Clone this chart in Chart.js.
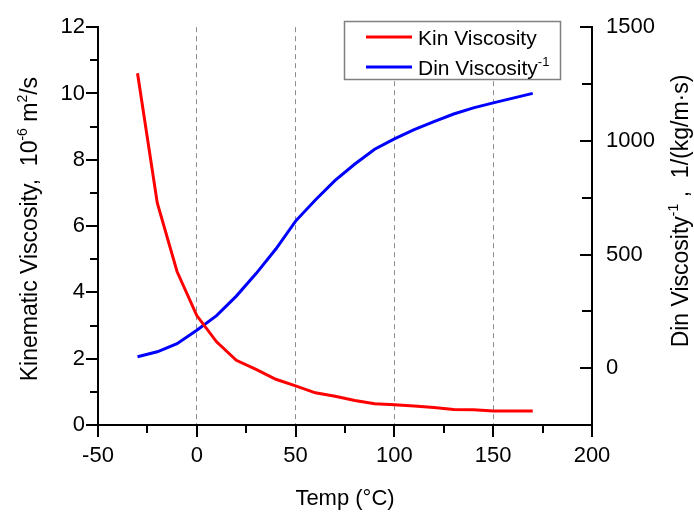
<!DOCTYPE html>
<html>
<head>
<meta charset="utf-8">
<script src="https://cdn.jsdelivr.net/npm/chart.js@4.4.1/dist/chart.umd.min.js"></script>
<style>
  html, body { margin: 0; padding: 0; background: #fff; }
  #wrap { width: 694px; height: 513px; }
</style>
</head>
<body>
<div id="wrap"><canvas id="viscChart" width="694" height="513"></canvas></div>
<script>
// temperature points (°C)
const temps = [-30, -20, -10, 0, 10, 20, 30, 40, 50, 60, 70, 80, 90, 100, 110, 120, 130, 140, 150, 160, 170];
// kinematic viscosity, 10^-6 m2/s (left axis)
const kinVisc = [10.61, 6.70, 4.63, 3.30, 2.51, 1.95, 1.68, 1.38, 1.18, 0.97, 0.87, 0.74, 0.64, 0.61, 0.57, 0.53, 0.47, 0.46, 0.42, 0.42, 0.42];
// inverse dynamic viscosity, 1/(kg/m·s) (right axis)
const dinInv = [50, 72, 108, 167, 231, 317, 416, 524, 647, 740, 826, 898, 963, 1009, 1049, 1085, 1118, 1145, 1167, 1188, 1209];

const xTicks = [-50, 0, 50, 100, 150, 200];
const yTicks = [0, 2, 4, 6, 8, 10, 12];
const y1Ticks = [0, 500, 1000, 1500];

const FONT = "'Liberation Sans', Arial, sans-serif";
const FS = 22;

const toPts = (xs, ys) => xs.map((x, i) => ({ x: x, y: ys[i] }));

// text runs with raised superscript pieces
function richWidth(ctx, parts, size) {
    let w = 0;
    parts.forEach(p => {
        ctx.font = (p.sup ? Math.round(size * 0.6) : size) + "px " + FONT;
        w += ctx.measureText(p.t).width;
    });
    return w;
}
function drawRich(ctx, parts, x, y, size) {
    ctx.textBaseline = 'alphabetic';
    ctx.textAlign = 'left';
    parts.forEach(p => {
        ctx.font = (p.sup ? Math.round(size * 0.6) : size) + "px " + FONT;
        ctx.fillText(p.t, x, p.sup ? y - size * 0.45 : y);
        x += ctx.measureText(p.t).width;
    });
}

const leftTitle = [{ t: 'Kinematic Viscosity,  10' }, { t: '-6', sup: true }, { t: ' m' }, { t: '2', sup: true }, { t: '/s' }];
const rightTitle = [{ t: 'Din Viscosity' }, { t: '-1', sup: true }, { t: ' ,  1/(kg/m\u00b7s)' }];
const xTitle = [{ t: 'Temp (\u00b0C)' }];
const legendItems = [
    { color: '#ff0000', parts: [{ t: 'Kin Viscosity' }] },
    { color: '#0000ff', parts: [{ t: 'Din Viscosity' }, { t: '-1', sup: true }] }
];

const decor = {
    id: 'decor',
    afterDraw(chart) {
        const ctx = chart.ctx;
        const { x, y, y1 } = chart.scales;
        const a = chart.chartArea;
        ctx.save();
        ctx.strokeStyle = '#000';
        ctx.lineWidth = 2;
        ctx.beginPath();
        for (let v = -50; v <= 200; v += 25) {
            const px = Math.round(x.getPixelForValue(v));
            const len = v % 50 === 0 ? 12 : 8;
            ctx.moveTo(px, a.bottom); ctx.lineTo(px, a.bottom + len);
        }
        for (let v = 0; v <= 12; v += 1) {
            const py = Math.round(y.getPixelForValue(v));
            const len = v % 2 === 0 ? 12 : 8;
            ctx.moveTo(a.left, py); ctx.lineTo(a.left - len, py);
        }
        for (let v = -250; v <= 1500; v += 250) {
            const py = Math.round(y1.getPixelForValue(v));
            const len = v % 500 === 0 ? 12 : 10;
            ctx.moveTo(a.right, py); ctx.lineTo(a.right - len, py);
        }
        ctx.stroke();

        // axis titles
        ctx.fillStyle = '#000';
        let w = richWidth(ctx, xTitle, 22);
        drawRich(ctx, xTitle, (a.left + a.right) / 2 - w / 2, 505, 22);

        w = richWidth(ctx, leftTitle, 23);
        ctx.save();
        ctx.translate(37, (a.top + a.bottom) / 2 + 3);
        ctx.rotate(-Math.PI / 2);
        drawRich(ctx, leftTitle, -w / 2, 0, 23);
        ctx.restore();

        w = richWidth(ctx, rightTitle, 23);
        ctx.save();
        ctx.translate(688, 211);
        ctx.rotate(-Math.PI / 2);
        drawRich(ctx, rightTitle, -w / 2, 0, 23);
        ctx.restore();

        // legend box
        ctx.fillStyle = '#fff';
        ctx.fillRect(344, 21, 216, 58);
        ctx.strokeStyle = '#808080';
        ctx.lineWidth = 1.5;
        ctx.strokeRect(344.5, 21.5, 216, 58);
        legendItems.forEach((it, i) => {
            const ly = 37 + i * 30;
            ctx.strokeStyle = it.color;
            ctx.lineWidth = 3;
            ctx.beginPath();
            ctx.moveTo(366, ly); ctx.lineTo(412, ly);
            ctx.stroke();
            ctx.fillStyle = '#000';
            drawRich(ctx, it.parts, 418, ly + 8, 21);
        });
        ctx.restore();
    }
};

const tickFont = { family: FONT, size: FS };

new Chart(document.getElementById('viscChart'), {
    type: 'line',
    data: {
        datasets: [
            { label: 'Kin Viscosity', data: toPts(temps, kinVisc), yAxisID: 'y', borderColor: '#ff0000', borderWidth: 3, pointRadius: 0, tension: 0, fill: false },
            { label: 'Din Viscosity-1', data: toPts(temps, dinInv), yAxisID: 'y1', borderColor: '#0000ff', borderWidth: 3, pointRadius: 0, tension: 0, fill: false }
        ]
    },
    options: {
        responsive: false,
        animation: false,
        layout: { padding: { top: 19, left: 0, right: 0, bottom: 0 } },
        plugins: { legend: { display: false }, tooltip: { enabled: false } },
        scales: {
            x: {
                type: 'linear', min: -50, max: 200,
                afterBuildTicks: s => { s.ticks = xTicks.map(v => ({ value: v })); },
                afterFit: s => { s.height = 88; },
                ticks: { color: '#000', font: tickFont, padding: 18, maxRotation: 0, callback: v => String(v) },
                grid: {
                    drawTicks: false, lineWidth: 1,
                    color: c => (c.tick && (c.tick.value === -50 || c.tick.value === 200)) ? 'rgba(0,0,0,0)' : '#8c8c8c'
                },
                border: { color: '#000', width: 2, dash: [5, 4] }
            },
            y: {
                type: 'linear', position: 'left', min: 0, max: 12,
                afterBuildTicks: s => { s.ticks = yTicks.map(v => ({ value: v })); },
                afterFit: s => { s.width = 98; },
                ticks: { color: '#000', font: tickFont, padding: 13, callback: v => String(v) },
                grid: { display: false, drawTicks: false },
                border: { color: '#000', width: 2 }
            },
            y1: {
                type: 'linear', position: 'right', min: -250, max: 1500,
                afterBuildTicks: s => { s.ticks = y1Ticks.map(v => ({ value: v })); },
                afterFit: s => { s.width = 102; },
                ticks: { color: '#000', font: tickFont, padding: 14, callback: v => String(v) },
                grid: { display: false, drawTicks: false },
                border: { color: '#000', width: 2 }
            }
        }
    },
    plugins: [decor]
});
</script>
</body>
</html>
